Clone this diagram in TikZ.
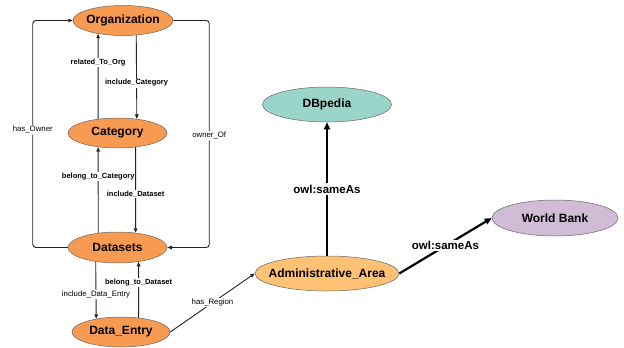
\documentclass[tikz,border=0pt]{standalone}
\usepackage{fontspec}
\setmainfont{Liberation Sans}
\usetikzlibrary{shapes.geometric,arrows.meta}
\definecolor{orgfill}{HTML}{F79A52}
\definecolor{adminfill}{HTML}{FFC174}
\definecolor{dbfill}{HTML}{9BD4C9}
\definecolor{wbfill}{HTML}{D1BCD6}
\definecolor{edgecol}{HTML}{222222}
\newcommand{\ntxt}[1]{\makebox[0pt][c]{#1}}
\begin{document}
\begin{tikzpicture}[x=1pt,y=-1pt,
  ent/.style={ellipse,draw=black!60,line width=0.5pt,inner sep=0pt,
    font=\fontsize{12}{14}\selectfont\bfseries},
  thin/.style={draw=edgecol,line width=0.9pt,-{Triangle[length=4.5pt,width=3.5pt]}},
  thick/.style={draw=black,line width=2.2pt,-{Triangle[length=7pt,width=6pt]}},
  lbl/.style={fill=white,inner sep=1pt,font=\fontsize{7.5}{9}\selectfont\bfseries},
  lblr/.style={fill=white,inner sep=1pt,font=\fontsize{7.8}{9}\selectfont},
  biglbl/.style={fill=white,inner sep=1.5pt,font=\fontsize{11.5}{13}\selectfont\bfseries}]
\useasboundingbox (0,0) rectangle (624,348);

\node[ent,fill=orgfill,minimum width=100pt,minimum height=30pt] (org) at (123,20.5) {\ntxt{Organization}};
\node[ent,fill=orgfill,minimum width=99pt,minimum height=30pt] (cat) at (117.5,133) {\ntxt{Category}};
\node[ent,fill=orgfill,minimum width=99pt,minimum height=31pt] (ds) at (117.5,247.5) {\ntxt{Datasets}};
\node[ent,fill=orgfill,minimum width=98pt,minimum height=30pt] (de) at (121,332) {\ntxt{Data\_Entry}};
\node[ent,fill=dbfill,minimum width=129pt,minimum height=35pt] (db) at (327,104.5) {\ntxt{DBpedia}};
\node[ent,fill=wbfill,minimum width=126pt,minimum height=36pt] (wb) at (555,218) {\ntxt{World Bank}};
\node[ent,fill=adminfill,minimum width=144pt,minimum height=35pt] (adm) at (327,273.5) {\ntxt{Administrative\_Area}};

% outer loops
\draw[thin,rounded corners=3pt] (ds.west) -- ++(-35,0) |- (org.west)
  node[lblr,pos=0.259] (lho) {has\_Owner};
\draw[thin,rounded corners=3pt] (org.east) -- ++(36,0) |- (ds.east)
  node[lblr,pos=0.254] (loo) {owner\_Of};

% vertical pairs
\draw[thin] (cat.144.7) -- (org.-152.5) node[lbl,pos=0.667] (lrt) {related\_To\_Org};
\draw[thin] (org.-48.1) -- (cat.36.9) node[lbl,pos=0.571] (lic) {include\_Category};
\draw[thin] (ds.143.8) -- (cat.-144.7) node[lbl,pos=0.662] (lbc) {belong\_to\_Category};
\draw[thin] (cat.-38.7) -- (ds.39.6) node[lbl,pos=0.547] (lid) {include\_Dataset};
\draw[thin] (ds.-147) -- (de.152.7) node[lblr,pos=0.58] (lide) {include\_Data\_Entry};
\draw[thin] (de.39.6) -- (ds.-34.5) node[lbl,pos=0.625] (lbd) {belong\_to\_Dataset};

% region
\draw[thin] (de.east) -- (adm.west) node[lblr,pos=0.5] (lhr) {has\_Region};

% sameAs
\draw[thick] (adm.north) -- (db.south) node[biglbl,pos=0.5] (ls1) {owl:sameAs};
\draw[thick] (adm.east) -- (wb.west) node[biglbl,pos=0.5] (ls2) {owl:sameAs};
\end{tikzpicture}
\end{document}
